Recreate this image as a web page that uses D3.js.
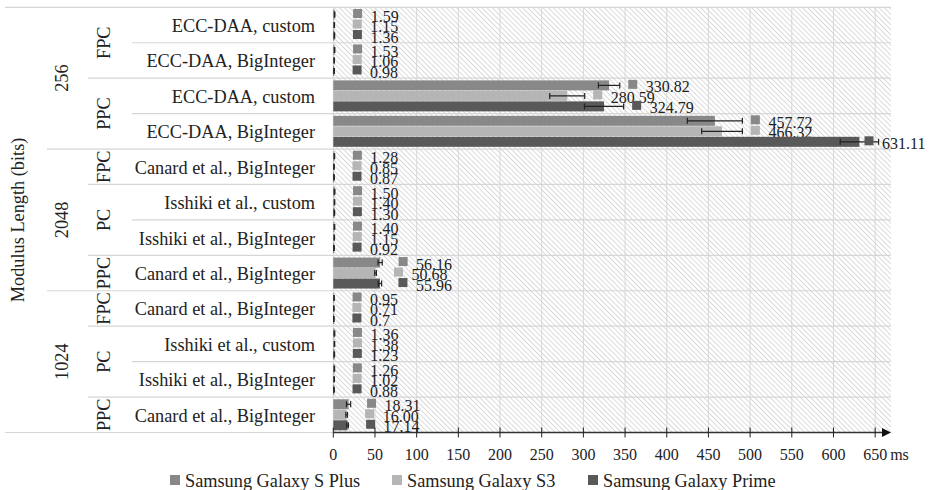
<!DOCTYPE html>
<html><head><meta charset="utf-8">
<script src="https://cdn.jsdelivr.net/npm/d3@7"></script>
<style>body{margin:0;background:#fff}svg{display:block}text{font-family:"Liberation Serif",serif;fill:#222}</style>
</head><body>
<svg id="c" width="933" height="490"></svg>
<script>
// ---------- data ----------
const categories = ["ECC-DAA, custom","ECC-DAA, BigInteger","ECC-DAA, custom","ECC-DAA, BigInteger",
  "Canard et al., BigInteger","Isshiki et al., custom","Isshiki et al., BigInteger","Canard et al., BigInteger",
  "Canard et al., BigInteger","Isshiki et al., custom","Isshiki et al., BigInteger","Canard et al., BigInteger"];
const modulusGroups = ["256","2048","1024"];
const modulusSizes = [4,4,4];
const protocolGroups = ["FPC","PPC","FPC","PC","PPC","FPC","PC","PPC"];
const protocolSizes = [2,2,1,2,1,1,2,1];
const seriesNames = ["Samsung Galaxy S Plus","Samsung Galaxy S3","Samsung Galaxy Prime"];
const sPlusValues = [1.59,1.53,330.82,457.72,1.28,1.50,1.40,56.16,0.95,1.36,1.26,18.31];
const s3Values    = [1.15,1.06,280.59,466.32,0.85,1.40,1.15,50.68,0.71,1.38,1.02,16.00];
const primeValues = [1.36,0.98,324.79,631.11,0.87,1.30,0.92,55.96,0.7,1.23,0.88,17.14];
const sPlusLabels = ["1.59","1.53","330.82","457.72","1.28","1.50","1.40","56.16","0.95","1.36","1.26","18.31"];
const s3Labels    = ["1.15","1.06","280.59","466.32","0.85","1.40","1.15","50.68","0.71","1.38","1.02","16.00"];
const primeLabels = ["1.36","0.98","324.79","631.11","0.87","1.30","0.92","55.96","0.7","1.23","0.88","17.14"];
const sPlusErr = [0.3,0.3,12.8,33,0.3,0.4,0.3,2.5,0.2,0.4,0.3,2.5];
const s3Err    = [0.3,0.3,21,24.4,0.3,0.3,0.3,1,0.2,0.3,0.3,1];
const primeErr = [0.3,0.3,23.5,23,0.3,0.3,0.3,2,0.2,0.3,0.3,1];
const xTicks = [0,50,100,150,200,250,300,350,400,450,500,550,600,650];
const xUnit = "ms";
const yTitle = "Modulus Length (bits)";

// ---------- styles ----------
const colors = ["#888888","#b5b5b5","#595959"];
const W = 933, H = 490;
const plotL = 333.3, plotR = 891, plotT = 7.3, plotB = 432.5;

const svg = d3.select("#c");
const x = d3.scaleLinear().domain([0,669]).range([plotL, plotR]);
const y = d3.scaleBand().domain(d3.range(categories.length)).range([plotT, plotB]);
const bw = y.bandwidth();

const series = [
  {name:seriesNames[0], values:sPlusValues, labels:sPlusLabels, err:sPlusErr, color:colors[0]},
  {name:seriesNames[1], values:s3Values, labels:s3Labels, err:s3Err, color:colors[1]},
  {name:seriesNames[2], values:primeValues, labels:primeLabels, err:primeErr, color:colors[2]}
];

// hatch pattern
const defs = svg.append("defs");
const pat = defs.append("pattern").attr("id","hatch").attr("patternUnits","userSpaceOnUse")
  .attr("width",3.6).attr("height",3.6).attr("patternTransform","rotate(-45)");
pat.append("rect").attr("width",3.6).attr("height",3.6).attr("fill","#ffffff");
pat.append("line").attr("x1",0.5).attr("y1",0).attr("x2",0.5).attr("y2",3.6)
  .attr("stroke","#d6d6d6").attr("stroke-width",0.9);

svg.append("rect").attr("x",plotL).attr("y",plotT).attr("width",plotR-plotL).attr("height",plotB-plotT)
  .attr("fill","url(#hatch)");

// vertical grid
svg.append("g").selectAll("line").data(xTicks).join("line")
  .attr("x1",d=>x(d)).attr("x2",d=>x(d)).attr("y1",plotT).attr("y2",plotB)
  .attr("stroke","#d8d8d8").attr("stroke-width",1);

// row separators (hierarchical)
const modBounds = new Set(d3.cumsum(modulusSizes));
const protBounds = new Set(d3.cumsum(protocolSizes));
const bounds = d3.range(categories.length+1);
svg.append("g").selectAll("line").data(bounds).join("line")
  .attr("x1",i=> (i===0||i===categories.length)?5 : modBounds.has(i)?47 : protBounds.has(i)?88 : 132)
  .attr("x2",plotR)
  .attr("y1",i=> i===categories.length? plotB : y(i)).attr("y2",i=> i===categories.length? plotB : y(i))
  .attr("stroke","#d6d6d6").attr("stroke-width",1.2);

// category labels
svg.append("g").selectAll("text").data(categories).join("text")
  .attr("x",315).attr("y",(d,i)=>y(i)+bw/2+1).attr("text-anchor","end")
  .attr("dominant-baseline","central").attr("font-size",18.3).text(d=>d);

// protocol labels
let acc = 0;
const protPos = protocolSizes.map(s=>{const c = acc + s/2; acc += s; return c;});
svg.append("g").selectAll("text").data(protocolGroups).join("text")
  .attr("transform",(d,i)=>`translate(104,${plotT + protPos[i]*bw}) rotate(-90)`)
  .attr("text-anchor","middle").attr("dominant-baseline","central").attr("font-size",18.3).text(d=>d);

// modulus labels
acc = 0;
const modPos = modulusSizes.map(s=>{const c = acc + s/2; acc += s; return c;});
svg.append("g").selectAll("text").data(modulusGroups).join("text")
  .attr("transform",(d,i)=>`translate(62,${plotT + modPos[i]*bw}) rotate(-90)`)
  .attr("text-anchor","middle").attr("dominant-baseline","central").attr("font-size",18.3).text(d=>d);

// y title
svg.append("text").attr("transform",`translate(18,${(plotT+plotB)/2}) rotate(-90)`)
  .attr("text-anchor","middle").attr("dominant-baseline","central").attr("font-size",18.3).text(yTitle);

// bars, error bars, labels
const step = 10.5, bh = 10;
series.forEach((s,k)=>{
  const g = svg.append("g");
  const cy = i => y(i) + bw/2 + (k-1)*step;
  g.selectAll("rect.bar").data(s.values).join("rect").attr("class","bar")
    .attr("x",x(0)).attr("y",(d,i)=>cy(i)-bh/2).attr("width",d=>Math.max(0.8,x(d)-x(0))).attr("height",bh)
    .attr("fill",s.color);
  // error bars
  const eg = g.append("g").attr("stroke","#222").attr("stroke-width",1.2);
  s.values.forEach((v,i)=>{
    const lo = x(v - s.err[i]), hi = x(v + s.err[i]), c = cy(i);
    eg.append("line").attr("x1",lo).attr("x2",hi).attr("y1",c).attr("y2",c);
    eg.append("line").attr("x1",lo).attr("x2",lo).attr("y1",c-3).attr("y2",c+3);
    eg.append("line").attr("x1",hi).attr("x2",hi).attr("y1",c-3).attr("y2",c+3);
  });
  // value labels
  s.values.forEach((v,i)=>{
    let sx = Math.max(x(v)+23, x(v + s.err[i]) + 13);
    sx = Math.min(sx, W - 64);
    const c = cy(i);
    g.append("rect").attr("x",sx-4.5).attr("y",c-5.5).attr("width",9).attr("height",9).attr("fill",s.color);
    g.append("text").attr("x",sx+13).attr("y",c+1.5).attr("dominant-baseline","central")
      .attr("font-size",16).text(s.labels[i]);
  });
});

// x axis
const ax = svg.append("g");
ax.append("line").attr("x1",x(0)).attr("x2",plotR-8).attr("y1",plotB).attr("y2",plotB)
  .attr("stroke","#333").attr("stroke-width",1.6);
ax.append("path").attr("d",`M${plotR-9},${plotB-4.5}L${plotR},${plotB}L${plotR-9},${plotB+4.5}Z`).attr("fill","#111");
ax.selectAll("line.tick").data(xTicks).join("line").attr("class","tick")
  .attr("x1",d=>x(d)).attr("x2",d=>x(d)).attr("y1",plotB-5).attr("y2",plotB+5)
  .attr("stroke","#222").attr("stroke-width",1);
ax.selectAll("text.tl").data(xTicks).join("text").attr("class","tl")
  .attr("x",d=>x(d)).attr("y",plotB+22).attr("text-anchor","middle").attr("dominant-baseline","central")
  .attr("font-size",16).text(d=>d);
ax.append("text").attr("x",x(650)+15).attr("y",plotB+22).attr("dominant-baseline","central")
  .attr("font-size",16).text(xUnit);

// legend
const legX = [170,392,588];
const lg = svg.append("g");
series.forEach((s,k)=>{
  lg.append("rect").attr("x",legX[k]).attr("y",475).attr("width",10).attr("height",10).attr("fill",s.color);
  lg.append("text").attr("x",legX[k]+15).attr("y",480.5).attr("dominant-baseline","central")
    .attr("font-size",18.3).text(s.name);
});
</script>
</body></html>
